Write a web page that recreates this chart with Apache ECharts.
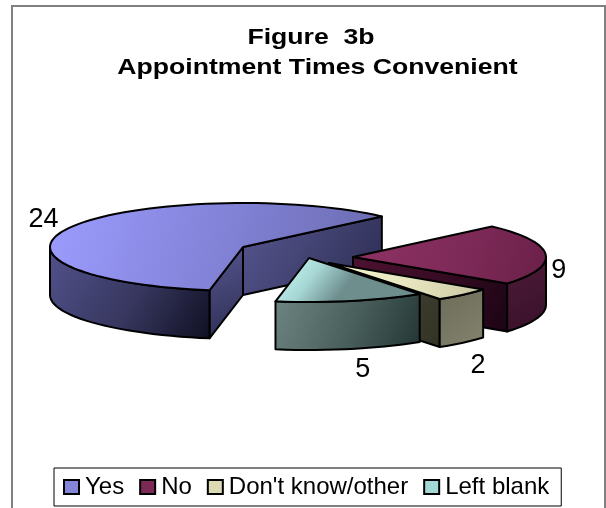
<!DOCTYPE html>
<html><head><meta charset="utf-8">
<style>html,body{margin:0;padding:0;background:#fff}#c{width:606px;height:508px}</style>
<script src="https://cdn.jsdelivr.net/npm/echarts@6/dist/echarts.min.js"></script>
</head><body><div id="c"></div>
<script>
const categories = ["Yes", "No", "Don't know/other", "Left blank"];
const values = [24, 9, 2, 5];
const titleLines = ["Figure  3b", "Appointment Times Convenient"];
const startAngle = 260;
const radiusX = 193, radiusY = 44, depth = 48;
const sliceCenters = [[243, 247], [353, 257], [329, 263], [309, 258]];
const labelOffsets = [[-29, -7], [13, 16], [15, 71], [12, 69]];
const topColors = [["#9C9CFF", "#8080D4", "#6A6AAE"], ["#8E3364", "#7E2A58", "#6A2048"], ["#F8F6CE", "#E6E4BE", "#C8C6A0"], ["#CFFFFC", "#A8D8D6", "#6E8E8E"]];
const topDirections = [[1, 1], [1, 1], [1, 1], [0.4, 1]];
const wallColors = [["#52528C", "#36365E", "#0F0F22"], ["#4E1B38", "#421530", "#36102A"], ["#6C6C58", "#787864", "#85856F"], ["#6E8683", "#485E5B", "#233533"]];
const faceColors = [["#55558F", "#40406E", "#2B2B52"], ["#4E1232", "#350B22", "#1C0414"], ["#48483A", "#3D3D30", "#333325"], ["#000", "#000", "#000"]];
const legendColors = ["#8484D8", "#7A2A55", "#DCDAB4", "#A4D8D6"];

const total = values.reduce((a, b) => a + b, 0);
const ranges = [];
let cursor = startAngle;
values.forEach(v => { const a1 = cursor, a0 = cursor - v / total * 360; ranges.push([a0, a1]); cursor = a0; });

function pt(c, a, dy) {
  const r = a * Math.PI / 180;
  return [c[0] + radiusX * Math.cos(r), c[1] - radiusY * Math.sin(r) + (dy || 0)];
}
function arc(c, a0, a1, dy) {
  const out = [], n = Math.max(2, Math.ceil(Math.abs(a1 - a0) / 3));
  for (let i = 0; i <= n; i++) out.push(pt(c, a0 + (a1 - a0) * i / n, dy));
  return out;
}
function grad(cols, x2, y2) {
  return new echarts.graphic.LinearGradient(0, 0, x2, y2, [{offset: 0, color: cols[0]}, {offset: 0.55, color: cols[1]}, {offset: 1, color: cols[2]}]);
}
function poly(points, fill) {
  return {type: 'polygon', shape: {points}, style: {fill, stroke: '#000', lineWidth: 2, lineJoin: 'round'}};
}
function sliceRenderer(i) {
  return function () {
    const c = sliceCenters[i], [a0, a1] = ranges[i], kids = [];
    const up = [c[0], c[1]], dn = [c[0], c[1] + depth];
    const s = Math.sin;
    const rad = Math.PI / 180;
    if (s((a0 - 90) * rad) < 0) kids.push(poly([up, pt(c, a0), pt(c, a0, depth), dn], grad(faceColors[i], 1, 1)));
    if (s((a1 + 90) * rad) < 0) kids.push(poly([up, pt(c, a1), pt(c, a1, depth), dn], grad(faceColors[i], 1, 1)));
    // outer wall: the part of the rim on the viewer's side of the ellipse
    for (const shift of [-360, 0]) {
      const lo = Math.max(a0, 180 + shift), hi = Math.min(a1, 360 + shift);
      if (hi > lo) kids.push(poly(arc(c, lo, hi, 0).concat(arc(c, hi, lo, depth)), grad(wallColors[i], 1, 1)));
    }
    kids.push(poly([up].concat(arc(c, a0, a1, 0)), grad(topColors[i], topDirections[i][0], topDirections[i][1])));
    const mid = pt(c, (a0 + a1) / 2);
    kids.push({type: 'text', style: {
      text: String(values[i]), x: mid[0] + labelOffsets[i][0], y: mid[1] + labelOffsets[i][1],
      fill: '#000', font: '27px "Liberation Sans"', align: 'center', verticalAlign: 'middle'}});
    return {type: 'group', children: kids};
  };
}
function titleText(text, x, y) {
  return {type: 'text', silent: true, x, y, scaleX: 1.21, scaleY: 1,
    style: {text, fill: '#000', font: 'bold 22px "Liberation Sans"', align: 'center', verticalAlign: 'middle'}};
}

const chart = echarts.init(document.getElementById('c'), null, {renderer: 'canvas'});
chart.setOption({
  animation: false,
  backgroundColor: '#fff',
  legend: {
    left: 54, top: 468, orient: 'horizontal', padding: [7, 12, 7, 9],
    borderColor: '#000', borderWidth: 1, itemGap: 15, itemWidth: 15, itemHeight: 14,
    icon: 'rect', selectedMode: false,
    textStyle: {fontFamily: 'Liberation Sans', fontSize: 24, color: '#000', padding: [0, 0, 0, 1]},
    data: categories.map((n, i) => ({name: n, itemStyle: {color: legendColors[i], borderColor: '#000', borderWidth: 2}}))
  },
  graphic: [
    {type: 'polyline', silent: true, z: -1,
     shape: {points: [[12, 508], [12, 6], [605, 6], [605, 508]]},
     style: {stroke: '#808080', lineWidth: 2, fill: null}},
    titleText(titleLines[0], 311, 38),
    titleText(titleLines[1], 317.5, 68)
  ],
  series: categories.map((n, i) => ({
    type: 'custom', name: n, coordinateSystem: 'none', silent: true,
    itemStyle: {color: legendColors[i]},
    data: [[values[i]]], renderItem: sliceRenderer(i), z: 2 + i
  }))
});
</script></body></html>
